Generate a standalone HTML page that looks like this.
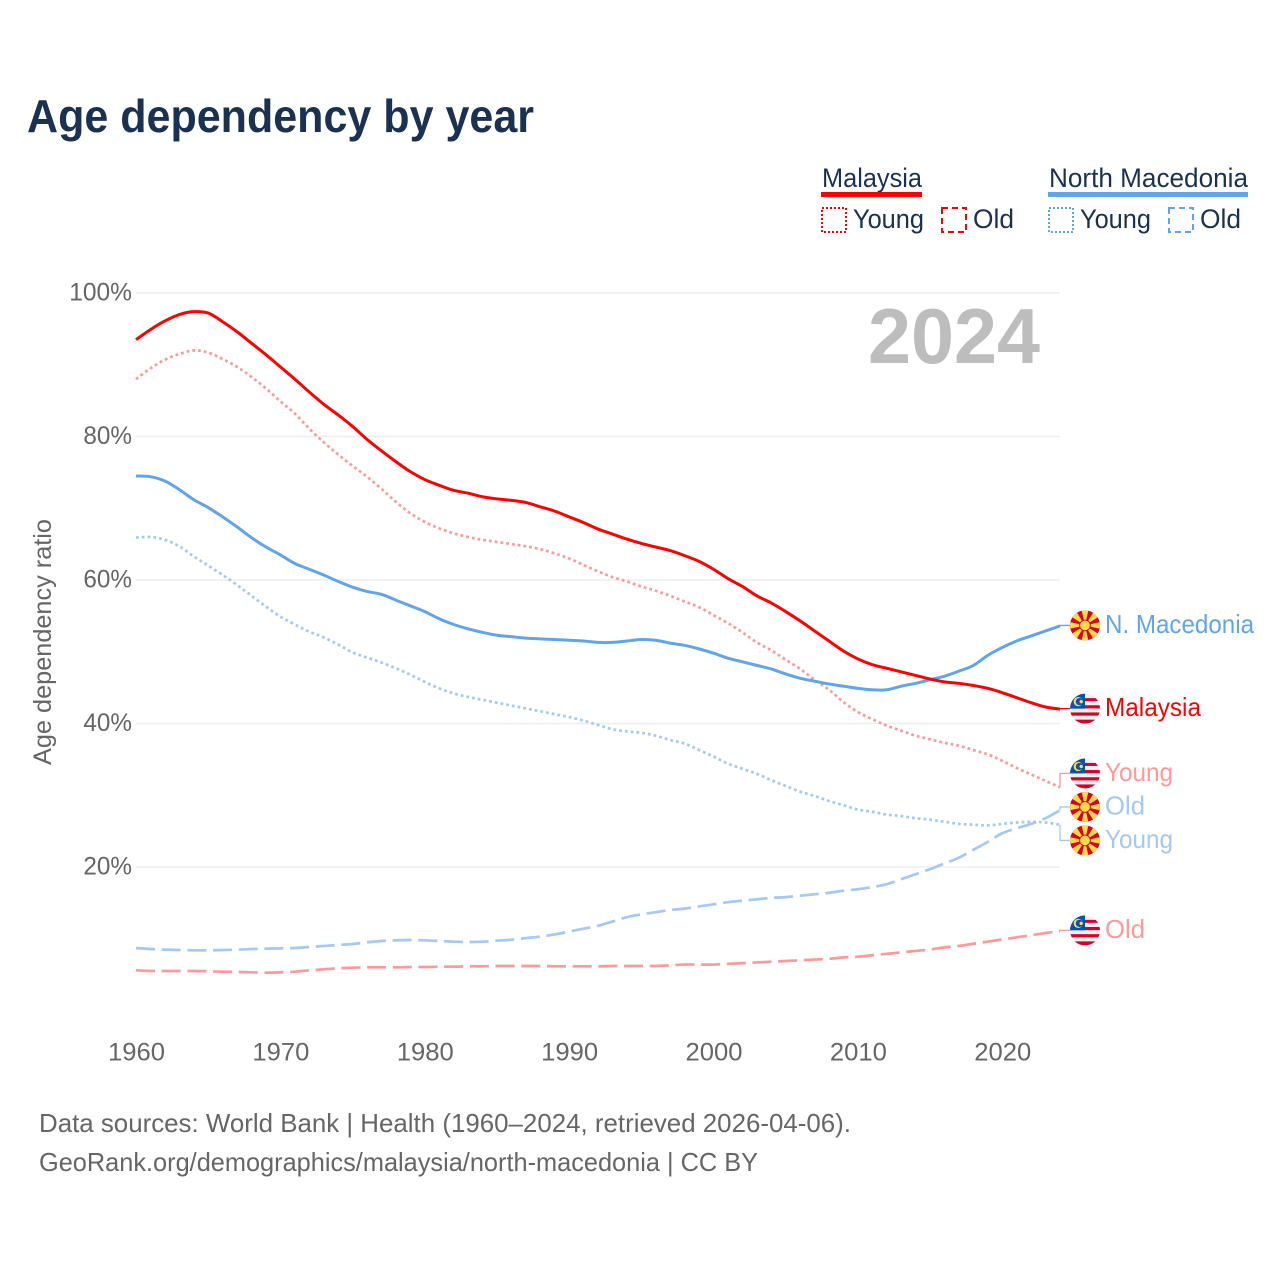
<!DOCTYPE html>
<html lang="en">
<head>
<meta charset="utf-8">
<title>Age dependency by year</title>
<style>
html,body{margin:0;padding:0;background:#fff;}
svg{display:block;font-family:"Liberation Sans",sans-serif;}
</style>
</head>
<body>
<svg id="chart" xmlns="http://www.w3.org/2000/svg" width="1280" height="1280" viewBox="0 0 1280 1280">
  <rect x="0" y="0" width="1280" height="1280" fill="#fff"/>
  <text x="27" y="132" font-size="46" font-weight="bold" fill="#1a3152" textLength="507" lengthAdjust="spacingAndGlyphs">Age dependency by year</text>

  <g font-size="27" fill="#1a3152">
    <text x="822" y="187" textLength="100" lengthAdjust="spacingAndGlyphs">Malaysia</text>
    <rect x="821" y="192" width="101" height="5" fill="#ff0000"/>
    <rect x="822" y="208" width="24" height="24" fill="none" stroke="#ff0000" stroke-width="2" stroke-dasharray="2 2"/>
    <text x="853" y="228" textLength="71" lengthAdjust="spacingAndGlyphs">Young</text>
    <rect x="942" y="208" width="24" height="24" fill="none" stroke="#ff0000" stroke-width="2" stroke-dasharray="6 4"/>
    <text x="973" y="228" textLength="41" lengthAdjust="spacingAndGlyphs">Old</text>
    <text x="1049" y="187" textLength="199" lengthAdjust="spacingAndGlyphs">North Macedonia</text>
    <rect x="1048" y="192" width="200" height="5" fill="#5fa5ee"/>
    <rect x="1049" y="208" width="24" height="24" fill="none" stroke="#5fa5ee" stroke-width="2" stroke-dasharray="2 2"/>
    <text x="1080" y="228" textLength="71" lengthAdjust="spacingAndGlyphs">Young</text>
    <rect x="1169" y="208" width="24" height="24" fill="none" stroke="#5fa5ee" stroke-width="2" stroke-dasharray="6 4"/>
    <text x="1200" y="228" textLength="41" lengthAdjust="spacingAndGlyphs">Old</text>
  </g>

  <g id="grid"></g>
  <text x="1040" y="363" text-anchor="end" font-size="78" font-weight="bold" fill="#bdbdbd" textLength="172" lengthAdjust="spacingAndGlyphs">2024</text>
  <g id="yticks"></g>
  <g id="xticks"></g>
  <text transform="translate(51 642) rotate(-90)" text-anchor="middle" font-size="25" fill="#666" textLength="246" lengthAdjust="spacingAndGlyphs">Age dependency ratio</text>
  <g id="series"></g>
  <g id="labels"></g>

  <g font-size="26" fill="#666">
    <text x="39" y="1132" textLength="812" lengthAdjust="spacingAndGlyphs">Data sources: World Bank | Health (1960–2024, retrieved 2026-04-06).</text>
    <text x="39" y="1171" textLength="719" lengthAdjust="spacingAndGlyphs">GeoRank.org/demographics/malaysia/north-macedonia | CC BY</text>
  </g>
</svg>
<script>
const startYear = 1960;
const endYear = 2024;
const xTickYears = [1960, 1970, 1980, 1990, 2000, 2010, 2020];
const yTickValues = [20, 40, 60, 80, 100];
const yTickLabels = ['20%', '40%', '60%', '80%', '100%'];

const malaysiaTotal = [93.5,94.9,96.1,97.0,97.4,97.2,96.0,94.6,93.0,91.4,89.7,88.0,86.2,84.5,83.0,81.4,79.6,78.0,76.5,75.1,74.0,73.2,72.5,72.1,71.6,71.3,71.1,70.8,70.2,69.6,68.8,68.0,67.1,66.4,65.7,65.1,64.6,64.1,63.4,62.6,61.5,60.2,59.1,57.8,56.8,55.6,54.3,52.9,51.5,50.1,49.0,48.2,47.7,47.2,46.7,46.2,45.8,45.6,45.3,44.9,44.3,43.6,42.9,42.3,42.0];
const malaysiaYoung = [88.0,89.5,90.7,91.5,92.0,91.7,90.8,89.7,88.3,86.7,84.9,83.2,81.1,79.2,77.5,75.9,74.4,72.7,70.9,69.3,68.1,67.2,66.5,66.0,65.6,65.3,65.0,64.7,64.3,63.7,63.0,62.1,61.2,60.4,59.8,59.1,58.5,57.8,57.0,56.2,55.1,54.0,52.7,51.3,50.2,48.9,47.6,46.1,44.7,43.0,41.6,40.6,39.7,39.0,38.3,37.8,37.3,36.9,36.3,35.7,34.8,33.8,32.9,32.0,31.1];
const malaysiaOld = [5.60,5.51,5.51,5.51,5.51,5.46,5.41,5.37,5.32,5.27,5.32,5.41,5.60,5.74,5.88,5.97,6.02,6.02,6.02,6.06,6.06,6.11,6.11,6.16,6.16,6.20,6.20,6.20,6.20,6.16,6.16,6.16,6.16,6.2,6.2,6.2,6.2,6.3,6.4,6.4,6.4,6.5,6.6,6.7,6.8,6.9,7.0,7.1,7.2,7.4,7.5,7.7,7.9,8.1,8.3,8.5,8.8,9.0,9.3,9.6,9.9,10.2,10.5,10.8,11.1];
const macedoniaTotal = [74.5,74.4,73.8,72.6,71.2,70.1,68.8,67.4,65.9,64.6,63.5,62.3,61.5,60.7,59.8,59.0,58.4,58.0,57.2,56.4,55.6,54.6,53.8,53.2,52.7,52.3,52.1,51.9,51.8,51.7,51.6,51.5,51.3,51.3,51.5,51.7,51.6,51.2,50.9,50.4,49.8,49.1,48.6,48.1,47.6,46.9,46.3,45.9,45.5,45.2,44.9,44.7,44.7,45.2,45.6,46.1,46.6,47.3,48.1,49.5,50.6,51.5,52.2,52.9,53.6];
const macedoniaYoung = [65.9,66.0,65.6,64.7,63.3,62.0,60.7,59.3,57.8,56.3,54.9,53.8,52.8,52.0,51.0,49.9,49.2,48.5,47.7,46.8,45.8,44.9,44.2,43.7,43.3,42.9,42.5,42.1,41.7,41.3,40.9,40.4,39.8,39.2,38.9,38.7,38.3,37.7,37.2,36.3,35.4,34.4,33.7,33.0,32.1,31.3,30.5,29.9,29.2,28.6,28.0,27.7,27.3,27.1,26.8,26.6,26.3,26.0,25.9,25.8,26.0,26.2,26.3,26.2,25.9];
const macedoniaOld = [8.71,8.57,8.48,8.43,8.39,8.39,8.43,8.48,8.57,8.62,8.66,8.71,8.85,8.99,9.13,9.27,9.50,9.69,9.78,9.83,9.78,9.69,9.59,9.55,9.59,9.73,9.87,10.1,10.3,10.6,11.0,11.4,11.8,12.4,13.0,13.4,13.7,14.0,14.2,14.5,14.8,15.1,15.3,15.5,15.7,15.8,16.0,16.2,16.4,16.7,16.9,17.2,17.6,18.3,19.0,19.7,20.5,21.3,22.4,23.5,24.7,25.4,26.0,26.8,27.9];

const SVG_NS = 'http://www.w3.org/2000/svg';
const PLOT_LEFT = 136, PLOT_RIGHT = 1060, Y_ZERO = 1010.5, Y_HUNDRED = 293;
const RED = '#ff0000', BLUE = '#5fa5ee', RED_LIGHT = '#ff9999', BLUE_LIGHT = '#a3c9f4';

function xScale(year) {
  return PLOT_LEFT + (year - startYear) / (endYear - startYear) * (PLOT_RIGHT - PLOT_LEFT);
}
function yScale(value) {
  return Y_ZERO + value / 100 * (Y_HUNDRED - Y_ZERO);
}
function make(tag, attrs, parent) {
  const el = document.createElementNS(SVG_NS, tag);
  for (const k in attrs) el.setAttribute(k, attrs[k]);
  if (parent) parent.appendChild(el);
  return el;
}

const gridGroup = document.getElementById('grid');
const yTickGroup = document.getElementById('yticks');
yTickValues.forEach(function (v, i) {
  const line = make('line', {x1: PLOT_LEFT, x2: PLOT_RIGHT, y1: yScale(v), y2: yScale(v), stroke: '#eeeeee', 'stroke-width': 1.5}, gridGroup);
  
  
  const label = make('text', {x: 132, y: yScale(v) + 7.5, 'text-anchor': 'end', 'font-size': 25, fill: '#666'}, yTickGroup);
  
  
  label.setAttribute('textLength', yTickLabels[i].length * 14.2 + 6);
  label.setAttribute('lengthAdjust', 'spacingAndGlyphs');
  label.textContent = yTickLabels[i];
});

const xTickGroup = document.getElementById('xticks');
xTickYears.forEach(function (year) {
  const label = make('text', {x: xScale(year) + 0.5, y: 1060.5, 'text-anchor': 'middle', 'font-size': 25, fill: '#666'}, xTickGroup);
  
  
  label.setAttribute('textLength', 57);
  label.setAttribute('lengthAdjust', 'spacingAndGlyphs');
  label.textContent = String(year);
});

const seriesGroup = document.getElementById('series');
function linePath(values) {
  const pts = values.map(function (v, i) {
    return [xScale(startYear + i), yScale(v)];
  });
  let d = 'M' + pts[0][0].toFixed(2) + ' ' + pts[0][1].toFixed(2);
  for (let i = 0; i < pts.length - 1; i++) {
    const p0 = pts[Math.max(i - 1, 0)], p1 = pts[i], p2 = pts[i + 1], p3 = pts[Math.min(i + 2, pts.length - 1)];
    const c1x = p1[0] + (p2[0] - p0[0]) / 6, c1y = p1[1] + (p2[1] - p0[1]) / 6;
    const c2x = p2[0] - (p3[0] - p1[0]) / 6, c2y = p2[1] - (p3[1] - p1[1]) / 6;
    d += 'C' + c1x.toFixed(2) + ' ' + c1y.toFixed(2) + ' ' + c2x.toFixed(2) + ' ' + c2y.toFixed(2) + ' ' + p2[0].toFixed(2) + ' ' + p2[1].toFixed(2);
  }
  return d;
}
function drawSeries(name, values, color, width, dash) {
  const path = make('path', {d: linePath(values), fill: 'none', stroke: color, 'stroke-width': width, 'stroke-linejoin': 'round'}, seriesGroup);
  if (dash) path.setAttribute('stroke-dasharray', dash);
  
  
}
drawSeries('line-malaysia-old', malaysiaOld, RED_LIGHT, 2.7, '19 6.7');
drawSeries('line-macedonia-old', macedoniaOld, BLUE_LIGHT, 2.7, '19 6.7');
drawSeries('line-macedonia-young', macedoniaYoung, BLUE_LIGHT, 2.7, '2.8 3');
drawSeries('line-malaysia-young', malaysiaYoung, RED_LIGHT, 2.7, '2.8 3');
drawSeries('line-macedonia-total', macedoniaTotal, BLUE, 3, null);
drawSeries('line-malaysia-total', malaysiaTotal, RED, 3, null);

const endLabels = [
  {text: 'N. Macedonia', width: 149, country: 'mk', color: BLUE, leader: BLUE, values: macedoniaTotal},
  {text: 'Malaysia', width: 96, country: 'my', color: RED, leader: RED, values: malaysiaTotal},
  {text: 'Young', width: 68, country: 'my', color: RED_LIGHT, leader: RED_LIGHT, values: malaysiaYoung},
  {text: 'Old', width: 40, country: 'mk', color: BLUE_LIGHT, leader: BLUE_LIGHT, values: macedoniaOld},
  {text: 'Young', width: 68, country: 'mk', color: BLUE_LIGHT, leader: BLUE_LIGHT, values: macedoniaYoung},
  {text: 'Old', width: 40, country: 'my', color: RED_LIGHT, leader: RED_LIGHT, values: malaysiaOld}
];

function dodge(items, gap) {
  const sorted = items.slice().sort(function (a, b) { return a.anchor - b.anchor; });
  let clusters = sorted.map(function (it) { return {items: [it], mean: it.anchor}; });
  let merged = true;
  function top(c) { return c.mean - (c.items.length - 1) * gap / 2; }
  function bottom(c) { return c.mean + (c.items.length - 1) * gap / 2; }
  while (merged) {
    merged = false;
    for (let i = 0; i < clusters.length - 1; i++) {
      if (top(clusters[i + 1]) - bottom(clusters[i]) < gap) {
        const all = clusters[i].items.concat(clusters[i + 1].items);
        const mean = all.reduce(function (s, it) { return s + it.anchor; }, 0) / all.length;
        clusters.splice(i, 2, {items: all, mean: mean});
        merged = true;
        break;
      }
    }
  }
  clusters.forEach(function (c) {
    c.items.forEach(function (it, i) { it.labelY = top(c) + i * gap; });
  });
}

endLabels.forEach(function (d) { d.anchor = yScale(d.values[d.values.length - 1]); });
dodge(endLabels, 33.5);

let clipCounter = 0;
function drawFlag(parent, country, cy) {
  const cx = 1085, r = 15;
  const g = make('g', {}, parent);
  
  
  const id = 'flag-clip-' + (clipCounter++);
  const clip = make('clipPath', {id: id}, g);
  make('circle', {cx: cx, cy: cy, r: r}, clip);
  const inner = make('g', {'clip-path': 'url(#' + id + ')'}, g);
  if (country === 'mk') {
    make('rect', {x: cx - r, y: cy - r, width: 2 * r, height: 2 * r, fill: '#d80027'}, inner);
    for (let a = 0; a < 8; a++) {
      const t = a * Math.PI / 4;
      const s = 0.22;
      const p = [cx, cy, cx + 18 * Math.cos(t - s), cy + 18 * Math.sin(t - s), cx + 18 * Math.cos(t + s), cy + 18 * Math.sin(t + s)];
      make('polygon', {points: p.join(','), fill: '#ffda44'}, inner);
    }
    make('circle', {cx: cx, cy: cy, r: 5.8, fill: '#d80027'}, inner);
    make('circle', {cx: cx, cy: cy, r: 4.9, fill: '#ffda44'}, inner);
  } else {
    make('rect', {x: cx - r, y: cy - r, width: 2 * r, height: 2 * r, fill: '#f0f0f0'}, inner);
    make('rect', {x: cx, y: cy - 10.5, width: r, height: 3, fill: '#d80027'}, inner);
    make('rect', {x: cx, y: cy - 3.4, width: r, height: 3.2, fill: '#d80027'}, inner);
    make('rect', {x: cx - r, y: cy + 3.8, width: 2 * r, height: 3.2, fill: '#d80027'}, inner);
    make('rect', {x: cx - r, y: cy + 11, width: 2 * r, height: 4, fill: '#d80027'}, inner);
    make('rect', {x: cx - r, y: cy - r, width: r, height: r, fill: '#0052b4'}, inner);
    make('circle', {cx: cx - 6.8, cy: cy - 7, r: 4.6, fill: '#ffda44'}, inner);
    make('circle', {cx: cx - 5.6, cy: cy - 7, r: 3.6, fill: '#0052b4'}, inner);
    make('circle', {cx: cx - 3.8, cy: cy - 7, r: 1.7, fill: '#ffda44'}, inner);
  }
}

const labelGroup = document.getElementById('labels');
endLabels.forEach(function (d) {
  const ly = d.labelY - 0.5;
  const lead = make('polyline', {points: PLOT_RIGHT + ',' + d.anchor + ' ' + PLOT_RIGHT + ',' + ly + ' 1070,' + ly, fill: 'none', stroke: d.leader, 'stroke-width': 1.3}, labelGroup);
  
  
  drawFlag(labelGroup, d.country, ly);
  const t = make('text', {x: 1105, y: ly + 7.5, 'font-size': 26, fill: d.color}, labelGroup);
  
  
  t.setAttribute('textLength', d.width);
  t.setAttribute('lengthAdjust', 'spacingAndGlyphs');
  t.textContent = d.text;
});
</script>
</body>
</html>
